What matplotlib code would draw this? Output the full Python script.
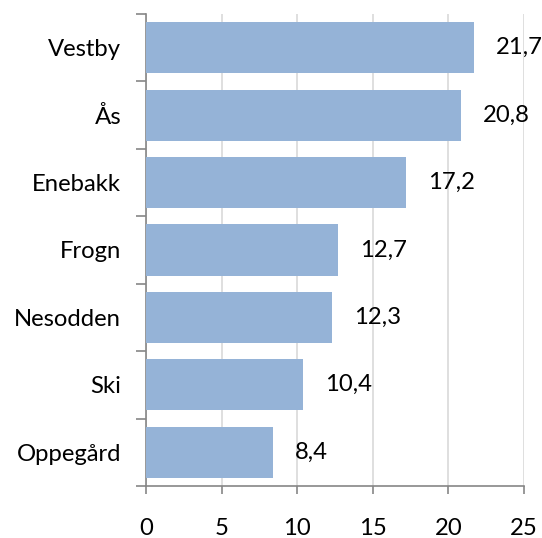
import matplotlib
matplotlib.use("Agg")
import matplotlib.pyplot as plt
import numpy as np

# kommuner og verdier (øverst til nederst)
kommuner = ["Vestby", "Ås", "Enebakk", "Frogn", "Nesodden", "Ski", "Oppegård"]
verdier = [21.7, 20.8, 17.2, 12.7, 12.3, 10.4, 8.4]
xticks = [0, 5, 10, 15, 20, 25]

plt.rcParams['font.family'] = ['Lato', 'DejaVu Sans']
fs = 17.2

fig = plt.figure(figsize=(5.42, 5.38), dpi=100)
ax = fig.add_axes([0.2694, 0.0967, 0.6974, 0.8773])

y = np.arange(len(kommuner))
ax.barh(y, verdier, height=0.76, color="#95B3D7", zorder=3)

for yi, v in zip(y, verdier):
    ax.annotate(("%.1f" % v).replace(".", ","), (v, yi), xytext=(16, 0),
                textcoords="offset points", va="center", ha="left",
                fontsize=fs, color="black")

ax.set_xlim(0, 25)
ax.set_ylim(len(kommuner) - 0.5, -0.5)
ax.set_xticks(xticks)
ax.set_xticklabels([str(t) for t in xticks], fontsize=fs)
ax.set_yticks(y)
ax.set_yticklabels(kommuner, fontsize=fs)
ax.set_yticks(np.arange(-0.5, len(kommuner)), minor=True)

ax.grid(axis="x", color="#D9D9D9", linewidth=1.2, zorder=0)
for s in ["top", "right"]:
    ax.spines[s].set_visible(False)
for s in ["left", "bottom"]:
    ax.spines[s].set_color("#868686")
    ax.spines[s].set_linewidth(1.2)

ax.tick_params(axis="y", which="major", length=0, pad=18)
ax.tick_params(axis="y", which="minor", length=7, color="#868686", width=1.2)
ax.tick_params(axis="x", length=6, color="#868686", width=1.2, pad=17)

fig.savefig("out.png", dpi=100)
